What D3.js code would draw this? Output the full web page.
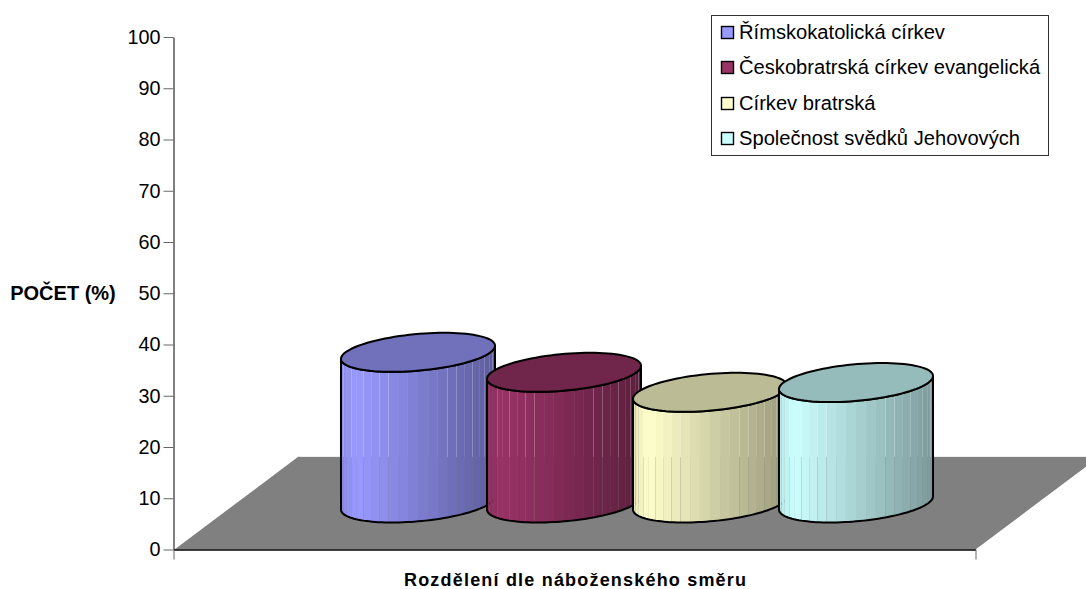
<!DOCTYPE html>
<html><head><meta charset="utf-8">
<style>html,body{margin:0;padding:0;background:#fff;overflow:hidden}svg{display:block}text{font-family:"Liberation Sans",Arial,sans-serif;fill:#000}</style>
<script src="https://cdn.jsdelivr.net/npm/d3@7"></script></head><body>
<script>
const seriesNames = ["Římskokatolická církev","Českobratrská církev evangelická","Církev bratrská","Společnost svědků Jehovových"];
const seriesValues = [29.4,25.5,21.6,23.5];
const seriesColors = ["#9999FF","#993366","#FFFFCC","#CCFFFF"];
const yTicks = [0,10,20,30,40,50,60,70,80,90,100];
const yTitle = "POČET (%)";
const xTitle = "Rozdělení dle náboženského směru";

const W=1086,H=589;
const svg=d3.select("body").append("svg").attr("width",W).attr("height",H);
const y=d3.scaleLinear().domain([0,100]).range([549.5,37]);
const xPlot=d3.scaleLinear().domain([0,1]).range([173.5,975.5]);
const xBand=d3.scaleBand().domain(seriesNames).range([345,929]);
const unit=y(0)-y(1);
const depth={dx:124,dy:93};
const baseLift=46.5;           // floor centre line above the axis

// floor
svg.append("path").attr("fill","#808080").attr("d",d3.line()([
 [xPlot(0)+1,y(0)],[xPlot(0)+depth.dx+1,y(0)-depth.dy],[xPlot(1)+depth.dx,y(0)-depth.dy],[xPlot(1),y(0)]])+"Z");
svg.append("line").attr("x1",299).attr("x2",W).attr("y1",456.5).attr("y2",456.5).attr("stroke","#eee");

// axes
const ya=svg.append("g").attr("transform",`translate(${xPlot(0)},0)`)
 .call(d3.axisLeft(y).tickValues(yTicks).tickSize(10).tickPadding(3).tickSizeOuter(0));
ya.selectAll("text").style("font-size","19.8px").style("font-family",'"Liberation Sans"').attr("fill","#000");
ya.selectAll(".tick line").attr("stroke","#666");
ya.select(".domain").attr("stroke","#000");
const xa=svg.append("g").attr("transform",`translate(0,${y(0)})`)
 .call(d3.axisBottom(xPlot).tickValues([0,1]).tickSize(10).tickFormat("").tickSizeOuter(0));
xa.select(".domain").attr("stroke","#000").attr("stroke-width",1.4);
xa.selectAll(".tick line").attr("stroke","#666");

// cylinders
const A=72.5,B=26,C=19.5, half=Math.hypot(A,B);
const defs=svg.append("defs");
function ell(cx,cy,t){return [cx+A*Math.cos(t)+B*Math.sin(t),cy-C*Math.sin(t)];}
const tRight=Math.atan2(B,A), tLeft=tRight+Math.PI;
function arc(cx,cy,t0,t1,n=64){return d3.range(n+1).map(i=>ell(cx,cy,t0+(t1-t0)*i/n));}
function shade(u){return u<0.1?0.9+u:1-(u-0.1)*0.44;}
const nStrips=24;
seriesNames.forEach((name,i)=>{
 const cx=xBand(name)+xBand.bandwidth()/2;
 const by=y(0)-baseLift;
 const ty=by-seriesValues[i]*unit;
 const base=d3.rgb(seriesColors[i]);
 const mul=k=>d3.rgb(base.r*k,base.g*k,base.b*k).formatHex();
 const body=[...arc(cx,ty,tLeft,tLeft,1).slice(0,1),
   ...arc(cx,by,tLeft,tLeft+Math.PI),
   ...arc(cx,ty,tRight+2*Math.PI,tRight+Math.PI)];
 const id="c"+i;
 defs.append("clipPath").attr("id",id).append("path").attr("d",d3.line()(body)+"Z");
 const g=svg.append("g");
 const sg=g.append("g").attr("clip-path",`url(#${id})`);
 const edges=d3.range(nStrips+1).map(k=>cx-half*Math.cos(Math.PI*k/nStrips));
 d3.range(nStrips).forEach(k=>{
  const u=((edges[k]+edges[k+1])/2-(cx-half))/(2*half);
  sg.append("rect").attr("x",edges[k]).attr("width",edges[k+1]-edges[k])
    .attr("y",ty-C-5).attr("height",by-ty+2*C+10).attr("fill",mul(shade(u)));
 });
 g.append("path").attr("d",d3.line()(body)+"Z").attr("fill","none").attr("stroke","#000").attr("stroke-width",2).attr("stroke-linejoin","round");
 g.append("path").attr("d",d3.line()(arc(cx,ty,0,2*Math.PI,96))+"Z").attr("fill",mul(0.735)).attr("stroke","#000").attr("stroke-width",2);
});

// titles
svg.append("text").attr("x",63).attr("y",300).attr("text-anchor","middle").attr("font-weight","bold").attr("font-size","20px").text(yTitle);
svg.append("text").attr("x",575).attr("y",585.5).attr("text-anchor","middle").attr("font-weight","bold").attr("font-size","18px")
  .attr("textLength",342).attr("lengthAdjust","spacing").text(xTitle);

// legend
svg.append("rect").attr("x",711.5).attr("y",15.5).attr("width",337).attr("height",140).attr("fill","#fff").attr("stroke","#333");
const legendY=d3.scalePoint().domain(seriesNames).range([32,138]);
seriesNames.forEach((n,i)=>{
 const ly=legendY(n);
 svg.append("rect").attr("x",721.5).attr("y",Math.round(ly-6)+.5).attr("width",12).attr("height",12).attr("fill",seriesColors[i]).attr("stroke","#000").attr("stroke-width",1.4);
 svg.append("text").attr("x",739).attr("y",ly+7).attr("font-size","20.15px").text(n);
});
</script></body></html>
